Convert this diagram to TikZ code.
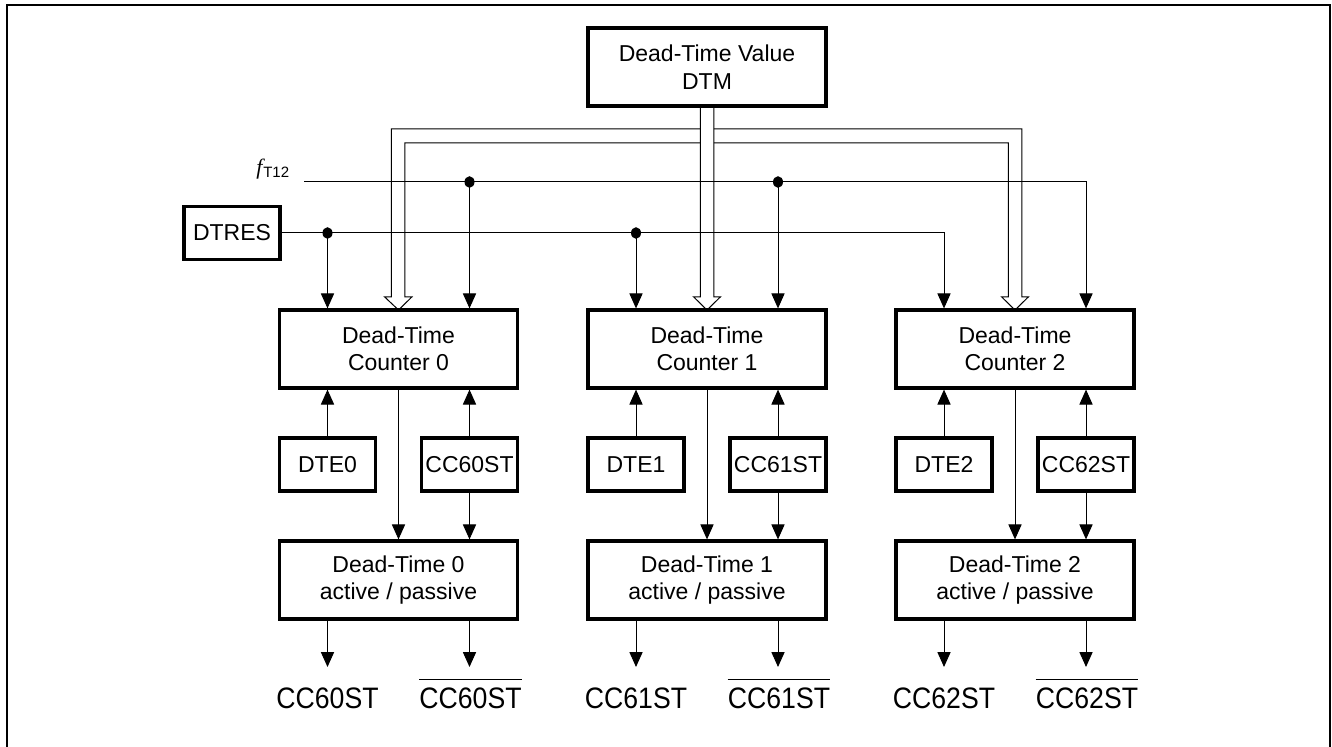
\documentclass[tikz,border=0pt]{standalone}
\usepackage{fontspec}
\setmainfont{Liberation Sans}
\newfontfamily\labfont[FakeStretch=0.9]{Liberation Sans}
\newfontfamily\serifit{Liberation Serif}
\usetikzlibrary{arrows.meta,calc}
\tikzset{
  blk/.style={draw, line width=1.6pt, inner sep=0pt, align=center,
    font=\fontsize{11.5}{13.75}\selectfont},
  bigbox/.style={blk, minimum width=119pt, minimum height=39pt},
  smallbox/.style={blk, minimum width=48pt, minimum height=26.5pt},
  conn/.style={line width=0.5pt, -{Triangle[width=6.6pt,length=7.5pt]}},
  plain/.style={line width=0.5pt},
  hollow/.style={line width=0.5pt},
  outlab/.style={inner xsep=0pt, inner ysep=0pt, anchor=base,
    font=\labfont\fontsize{14.8}{17}\selectfont},
  frameline/.style={line width=0.9pt}
}
\begin{document}
\begin{tikzpicture}[x=0.5pt,y=-0.5pt]
\useasboundingbox (0,0) rectangle (1332,747);
\draw[frameline] (7,747) -- (7,5) -- (1330,5) -- (1330,747);

% top value box
\node[bigbox] (dtm) at (707,67) {Dead-Time Value\\DTM};

% counters
\node[bigbox] (c0) at (398.5,349) {Dead-Time\\Counter 0};
\node[bigbox] (c1) at (707,349) {Dead-Time\\Counter 1};
\node[bigbox] (c2) at (1015,349) {Dead-Time\\Counter 2};

% enable / status boxes
\node[smallbox] (dte0) at (327.5,464.5) {DTE0};
\node[smallbox] (cc0)  at (469.5,464.5) {CC60ST};
\node[smallbox] (dte1) at (636,464.5) {DTE1};
\node[smallbox] (cc1)  at (778,464.5) {CC61ST};
\node[smallbox] (dte2) at (944,464.5) {DTE2};
\node[smallbox] (cc2)  at (1086,464.5) {CC62ST};

% dead-time state boxes
\node[bigbox] (d0) at (398.5,580) {Dead-Time 0\\active / passive};
\node[bigbox] (d1) at (707,580) {Dead-Time 1\\active / passive};
\node[bigbox] (d2) at (1015,580) {Dead-Time 2\\active / passive};

% DTRES and clock
\node[smallbox] (dtres) at (232,233) {DTRES};
\node[anchor=base west, inner sep=0pt] (fclk) at (256,175)
  {\serifit\itshape\fontsize{11}{13}\selectfont f\hspace{0.4pt}\raisebox{-1.2pt}{\normalfont\fontsize{7.5}{9}\selectfont T12}};
\coordinate (fstart) at (304,182);

% hollow bus from DTM
\draw[hollow] (700.25,106) -- (700.25,297) -- (693.7,297) -- (707,310) -- (720.3,297) -- (713.75,297) -- (713.75,106);
\draw[hollow] (700.25,129) -- (391.25,129) -- (391.25,297) -- (384.7,297) -- (398.5,310) -- (411.8,297) -- (404.75,297) -- (404.75,143) -- (700.25,143);
\draw[hollow] (713.75,129) -- (1021.75,129) -- (1021.75,297) -- (1028.3,297) -- (1015,310) -- (1001.7,297) -- (1008.25,297) -- (1008.25,143) -- (713.75,143);

% clock line
\coordinate (fd0) at (469.5,182);
\coordinate (fd1) at (778,182);
\draw[conn] (fstart) -| ([xshift=35.5pt]c2.north);
\draw[conn] (fd0) -- ([xshift=35.5pt]c0.north);
\draw[conn] (fd1) -- ([xshift=35.5pt]c1.north);
\fill (fd0) ellipse [x radius=2.5pt, y radius=2.9pt];
\fill (fd1) ellipse [x radius=2.5pt, y radius=2.9pt];

% DTRES line
\coordinate (rd0) at (327.5,233);
\coordinate (rd1) at (636,233);
\draw[conn] (dtres.east) -| ([xshift=-35.5pt]c2.north);
\draw[conn] (rd0) -- ([xshift=-35.5pt]c0.north);
\draw[conn] (rd1) -- ([xshift=-35.5pt]c1.north);
\fill (rd0) ellipse [x radius=2.5pt, y radius=2.9pt];
\fill (rd1) ellipse [x radius=2.5pt, y radius=2.9pt];

% per-channel connections
\foreach \i in {0,1,2}{
  \draw[conn] (dte\i.north) -- (dte\i.north |- c\i.south);
  \draw[conn] (cc\i.north) -- (cc\i.north |- c\i.south);
  \draw[conn] (c\i.south) -- (d\i.north);
  \draw[conn] (cc\i.south) -- (cc\i.south |- d\i.north);
}

% outputs
\foreach \i/\cx in {0/398.5,1/707,2/1015}{
  \coordinate (oa\i) at (\cx-71,667);
  \coordinate (ob\i) at (\cx+71,667);
  \draw[conn] (d\i.south -| oa\i) -- (oa\i);
  \draw[conn] (d\i.south -| ob\i) -- (ob\i);
}
\node[outlab] (la0) at (327.5,708) {CC60ST};
\node[outlab] (lb0) at (470.5,708) {CC60ST};
\node[outlab] (la1) at (636,708) {CC61ST};
\node[outlab] (lb1) at (779,708) {CC61ST};
\node[outlab] (la2) at (944,708) {CC62ST};
\node[outlab] (lb2) at (1087,708) {CC62ST};
\foreach \i in {0,1,2}{
  \draw[line width=0.5pt] ([yshift=3.5pt]lb\i.north west) -- ([yshift=3.5pt]lb\i.north east);
}
\end{tikzpicture}
\end{document}
